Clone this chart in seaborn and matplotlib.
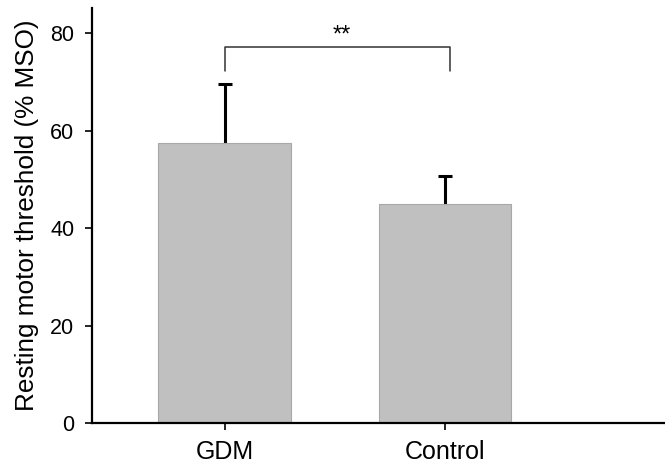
import matplotlib
matplotlib.use("Agg")
import matplotlib.pyplot as plt
import seaborn as sns
import pandas as pd

groups = ["GDM", "Control"]
means = [57.6, 44.9]
sd = [11.9, 5.8]
bracket_low = 72.3
bracket_high = 77.1
sig_label = "**"

sns.set_style("ticks")
plt.rcParams["font.family"] = ["Liberation Sans", "DejaVu Sans"]

fig = plt.figure(figsize=(6.65, 4.68), dpi=100)
ax = fig.add_axes([0.1388, 0.0955, 0.859, 0.8875])

df = pd.DataFrame({"group": groups, "value": means})
sns.barplot(data=df, x="group", y="value", order=groups, color="#c0c0c0",
            saturation=1, width=0.6, edgecolor="#a8a8a8", linewidth=0.8,
            errorbar=None, ax=ax, zorder=2)

xpos = list(range(len(groups)))
ax.errorbar(xpos, means, yerr=sd, fmt="none",
            ecolor="black", elinewidth=2.2, capsize=4.7, capthick=2.2, zorder=1)

ax.plot([xpos[0], xpos[0], xpos[1] + 0.02, xpos[1] + 0.02],
        [bracket_low, bracket_high, bracket_high, bracket_low],
        color="#333333", lw=1.1)
ax.text((xpos[0] + xpos[1]) / 2 + 0.03, bracket_high + 0.2, sig_label,
        ha="center", va="bottom", fontsize=17, color="black")

ax.set_xlim(-0.6, 1.99)
ax.set_ylim(0, 85.2)
ax.set_yticks([0, 20, 40, 60, 80])
ax.set_xlabel("")
ax.set_ylabel("Resting motor threshold (% MSO)", fontsize=18.8, labelpad=8,
              color="black")
ax.tick_params(axis="y", labelsize=15.5, length=5, width=1.2, pad=8,
               colors="black")
ax.tick_params(axis="x", labelsize=18, length=5, width=1.2, pad=7,
               colors="black")
for s in ["top", "right"]:
    ax.spines[s].set_visible(False)
for s in ["left", "bottom"]:
    ax.spines[s].set_linewidth(1.6)
    ax.spines[s].set_color("black")

fig.savefig("out.png", dpi=100)
